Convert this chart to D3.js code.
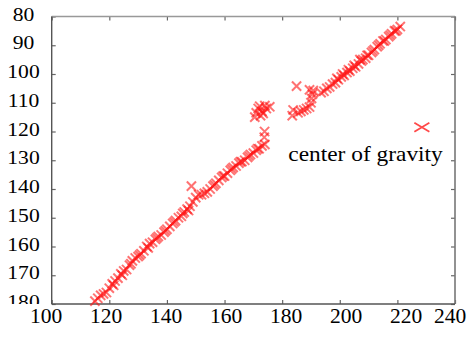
<!DOCTYPE html>
<html><head><meta charset="utf-8">
<script src="https://cdn.jsdelivr.net/npm/d3@7"></script>
<style>
html,body{margin:0;padding:0;background:#fff;}
svg{display:block;}
</style></head>
<body>
<svg id="chart" width="471" height="342"></svg>
<script>
// ---- data (x, y) of "center of gravity" points ----
const xTicks = [100,120,140,160,180,200,220,240];
const yTicks = [80,90,100,110,120,130,140,150,160,170,180];
const legendLabel = "center of gravity";
const legendPoint = [228.5, 118.5];

const lowerX = [115,116,117,118,119,120,121,122,123,124,125,126,127,128,129,130,131,132,133,134,135,136,137,138,139,140,141,142,143,144,145,146,147,148,149,148.5,150,151,152,153,154,155,156,157,158,159,160,161,162,163,164,165,166,167,168,169,170,171,172,173,174,173.8,173.9];
const lowerY = [179,178,177,176.5,176,174.5,173,172,171,169.5,168.5,168,166.5,165,164,163.5,162.5,161.5,160,159,158.5,157.5,156.5,156,155,154,153,152,151,150,149.5,148,147,146,144.5,139,143,142,142,141.5,141,140,139,138,137,136,135.5,134.5,133.5,132.5,132,131,130.5,130,129,128,127.5,126.5,126,125,124.5,122,120];
const lowerX2 = [121.5,124.5,127.5,130.5,133.5,136.5,139.5,142.5,145.5,147.5,156.5,159.5,162.5,165.5,168.5,171.5];
const lowerY2 = [173.5,170,166,163,160.5,157,154.5,151.5,148.5,147.5,138.5,135.5,133,130.5,128.5,126];
const clusterAX = [170.5,171,171.7,172.5,173,173.4,174,174.5,175.7,172.2];
const clusterAY = [115,113.5,112,114.5,113,113.7,111,112,111.4,111.2];
const clusterBX = [183.5,183.8,185,185.5,186.5,187.5,188.5,189.5,190,190.2,190.5,189.5,190.8];
const clusterBY = [114.5,112.5,104.2,113.5,113,112.5,112,111.5,110,108.5,107,105.5,105.8];
const upperX = [193.5,194.5,195.5,196.5,197.5,198.5,199.5,200.5,201.5,202.5,203.5,204.5,205.5,206.5,207.5,208,209,210,211,212,213,214,215,216,217,218,219,220,221];
const upperY = [106.5,106,105,104.5,103.5,103,102,101,100.5,99.5,99,98,97.5,96.5,95.5,95,94.5,93.5,92.5,91.5,90.5,89.5,88.5,88,87,86,85,84.5,83.5];
const upperX2 = [199,201,203,205,207,209.5,211.5,213.5,215.5,217.5,219.5];
const upperY2 = [101.5,100,98.5,97,95,93.5,92,90,88.5,86.5,85];

const allX = lowerX.concat(lowerX2, clusterAX, clusterBX, upperX, upperX2);
const allY = lowerY.concat(lowerY2, clusterAY, clusterBY, upperY, upperY2);
const points = allX.map((v,i)=>({x:v, y:allY[i]}));

const FONT = "'Liberation Serif', 'Times New Roman', Tinos, 'DejaVu Serif', serif";

// ---- layout ----
const L = 51.7, R = 455, T = 16.5, B = 304;
const svg = d3.select("#chart");
const x = d3.scaleLinear().domain([100,240]).range([L,R]);
const y = d3.scaleLinear().domain([80,180]).range([T,B]);
const xLab = d3.scaleLinear().domain([100,220]).range([46,406]);

const defs = svg.append("defs");
defs.append("filter").attr("id","soft").attr("x","-10%").attr("y","-10%").attr("width","120%").attr("height","120%")
  .append("feGaussianBlur").attr("stdDeviation",0.55);

// inward ticks on all four sides
const tickCol = "#666";
function styleAxis(g){ g.select(".domain").remove(); g.selectAll("line").attr("stroke",tickCol).attr("stroke-width",1.2); g.selectAll("text").remove(); }
svg.append("g").attr("transform",`translate(0,${B})`).call(d3.axisBottom(x).tickValues(xTicks).tickSizeInner(-4).tickSizeOuter(0)).call(styleAxis);
svg.append("g").attr("transform",`translate(0,${T})`).call(d3.axisTop(x).tickValues(xTicks).tickSizeInner(-4).tickSizeOuter(0)).call(styleAxis);
svg.append("g").attr("transform",`translate(${L},0)`).call(d3.axisLeft(y).tickValues(yTicks).tickSizeInner(-4).tickSizeOuter(0)).call(styleAxis);
svg.append("g").attr("transform",`translate(${R},0)`).call(d3.axisRight(y).tickValues(yTicks).tickSizeInner(-4).tickSizeOuter(0)).call(styleAxis);

// frame
svg.append("line").attr("x1",L).attr("x2",R).attr("y1",T).attr("y2",T).attr("stroke","#999").attr("stroke-width",1.6);
svg.append("line").attr("x1",R).attr("x2",R).attr("y1",T).attr("y2",B).attr("stroke","#777").attr("stroke-width",1.6);
svg.append("line").attr("x1",L).attr("x2",L).attr("y1",T).attr("y2",B).attr("stroke","#555").attr("stroke-width",1.4);
svg.append("line").attr("x1",L).attr("x2",R).attr("y1",B).attr("y2",B).attr("stroke","#555").attr("stroke-width",1.4);

// x tick labels
svg.append("g").selectAll("text").data(xTicks).join("text")
  .attr("x", d=>Math.min(xLab(d),450)).attr("y",323)
  .attr("text-anchor","middle").attr("font-family",FONT).attr("font-size",21.5).attr("fill","#000").text(d=>d);

// y tick labels (clipped at the x axis line)
svg.append("clipPath").attr("id","yclip").append("rect").attr("x",0).attr("y",0).attr("width",L).attr("height",B);
svg.append("g").attr("clip-path","url(#yclip)").selectAll("text").data(yTicks).join("text")
  .attr("transform", d=>`translate(23.5,${y(d)+4}) scale(1.2,1)`)
  .attr("text-anchor","middle").attr("font-family",FONT).attr("font-size",18).attr("fill","#000").text(d=>d);

// markers
const red = "rgba(255,20,20,0.6)";
const s = 4.6;
svg.append("g").attr("filter","url(#soft)").selectAll("path").data(points).join("path")
  .attr("d", d=>{const cx=x(d.x), cy=y(d.y); return `M${cx-s},${cy-s}L${cx+s},${cy+s}M${cx-s},${cy+s}L${cx+s},${cy-s}`;})
  .attr("stroke",red).attr("stroke-width",2).attr("fill","none");

// legend
const lx = x(legendPoint[0]), ly = y(legendPoint[1]);
svg.append("path").attr("d",`M${lx-7.5},${ly-4.5}L${lx+7.5},${ly+4.5}M${lx-7.5},${ly+4.5}L${lx+7.5},${ly-4.5}`)
  .attr("stroke","rgba(255,40,40,0.85)").attr("stroke-width",1.7).attr("fill","none").attr("filter","url(#soft)");
svg.append("text").attr("transform","translate(288.3,161) scale(1.17,1)")
  .attr("font-family",FONT).attr("font-size",20).attr("fill","#000").text(legendLabel);
</script>
</body></html>
